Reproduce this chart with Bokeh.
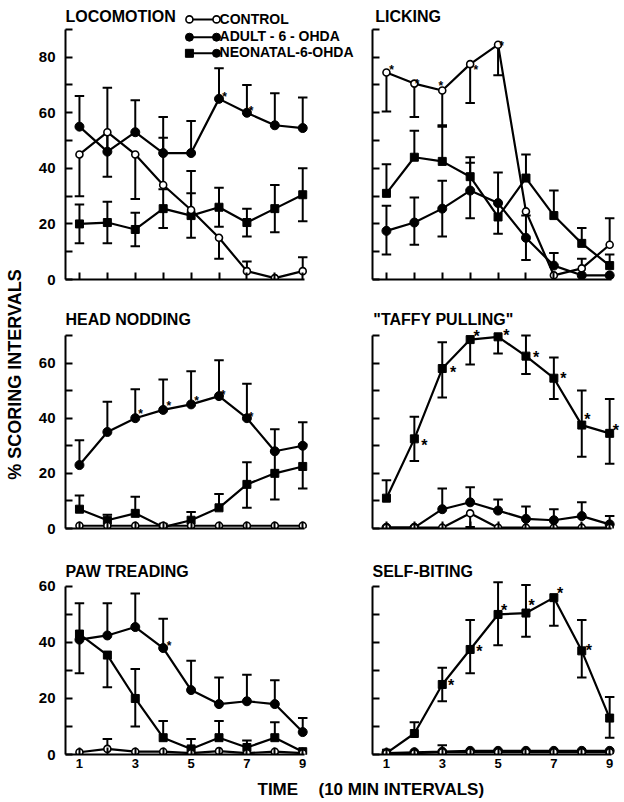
import numpy as np
from bokeh.plotting import figure
from bokeh.layouts import row, column
from bokeh.models import FixedTicker, Label
from bokeh.core.properties import value
from bokeh.embed import file_html
from bokeh.resources import INLINE

FONT = "Liberation Sans"

# ---------------- data ----------------
time = [1, 2, 3, 4, 5, 6, 7, 8, 9]
x_tick_labels = [1, 3, 5, 7, 9]
x_minor = [2, 4, 6, 8]

# LOCOMOTION
loc_control    = [45, 53, 45, 34, 25, 15, 3, 0.5, 3]
loc_control_hi = [0, 0, 0, 17, 14, 0, 3.5, 0, 5]
loc_control_lo = [15, 16, 16, 0, 0, 7.5, 0, 0, 0]
loc_adult      = [55, 46, 53, 45.5, 45.5, 65, 60, 55.5, 54.5]
loc_adult_hi   = [11, 23, 11.5, 13, 11.5, 11, 10, 11.5, 11]
loc_adult_lo   = [0, 0, 0, 0, 0, 0, 0, 0, 0]
loc_neo        = [20, 20.5, 18, 25.5, 23, 26, 20.5, 25.5, 30.5]
loc_neo_hi     = [7, 7.5, 6, 7, 8, 7, 5, 8.5, 9.5]
loc_neo_lo     = [7, 7.5, 6, 7, 8, 7, 5, 8.5, 9.5]
loc_star_x     = [6.2, 7.15]
loc_star_y     = [67, 62]

# LICKING
lick_control    = [74.5, 70.5, 68, 77.5, 84.5, 24.5, 1.5, 4, 12.5]
lick_control_hi = [0, 0, 0, 0, 0, 0, 0, 3.5, 9.5]
lick_control_lo = [14, 12, 13, 14, 11, 0, 0, 0, 0]
lick_adult      = [17.5, 20.5, 25.5, 32, 27.5, 15, 5, 1.5, 1.5]
lick_adult_hi   = [9, 9, 10, 10, 11, 8, 4.5, 0, 0]
lick_adult_lo   = [8.5, 8, 10, 10, 11, 8, 0, 0, 0]
lick_neo        = [31, 44, 42.5, 37, 22.5, 36.5, 23, 13, 5]
lick_neo_hi     = [10.5, 9.5, 13, 7, 0, 8.5, 9, 5.5, 4]
lick_neo_lo     = [0, 0, 0, 0, 0, 0, 0, 0, 0]
lick_star_x     = [1.18, 2.1, 2.95, 4.2, 5.13]
lick_star_y     = [76.8, 71.9, 71.2, 76.8, 85.3]

# HEAD NODDING
hn_control    = [1, 1, 1, 1, 1, 1, 1, 1, 1]
hn_control_hi = [0, 0, 0, 0, 0, 0, 0, 0, 0]
hn_control_lo = [0, 0, 0, 0, 0, 0, 0, 0, 0]
hn_adult      = [23, 35, 40, 43, 45, 48, 40, 28, 30]
hn_adult_hi   = [9, 11, 10.5, 11, 12, 13, 12.5, 8, 8.5]
hn_adult_lo   = [0, 0, 0, 0, 0, 0, 0, 0, 0]
hn_neo        = [7, 3, 5.5, 0.5, 3, 7.5, 16, 20, 22.5]
hn_neo_hi     = [5, 2, 6, 0, 3, 5, 8, 8, 8]
hn_neo_lo     = [0, 0, 0, 0, 0, 0, 8.5, 9.5, 8]
hn_star_x     = [3.19, 4.2, 5.2, 6.15, 7.15]
hn_star_y     = [43, 46, 47.6, 49.7, 42]

# "TAFFY PULLING"
taffy_control    = [0.3, 0.3, 0.3, 5.5, 0.3, 0.3, 0.3, 0.3, 0.3]
taffy_control_hi = [0, 0, 0, 0, 0, 0, 0, 0, 0]
taffy_control_lo = [0, 0, 0, 5, 0, 0, 0, 0, 0]
taffy_adult      = [0.3, 0.3, 7, 9.5, 6.5, 3.5, 3, 4.5, 1.5]
taffy_adult_hi   = [0, 0, 7.5, 5.5, 4, 4.5, 4, 5, 3]
taffy_adult_lo   = [0, 0, 0, 0, 0, 0, 0, 0, 0]
taffy_neo        = [11, 32.5, 58, 68.5, 69.5, 62.5, 54.5, 37.5, 34.5]
taffy_neo_hi     = [6.5, 8, 9.5, 0, 0, 7.5, 7.5, 12.5, 12.5]
taffy_neo_lo     = [0, 8, 10.5, 9, 6, 6.5, 7.5, 11.5, 11]
taffy_star_x     = [2.36, 3.39, 4.23, 5.3, 6.36, 7.34, 8.2, 9.22]
taffy_star_y     = [31.5, 58, 71, 71.5, 63.5, 56, 41, 37]

# PAW TREADING
paw_control    = [0.8, 2, 1, 1, 0.5, 1.2, 0.5, 1, 0.5]
paw_control_hi = [0, 3.5, 0, 0, 0, 0, 0, 0, 0]
paw_control_lo = [0, 0, 0, 0, 0, 0, 0, 0, 0]
paw_adult      = [41, 42.5, 45.5, 38, 23, 18, 19, 18, 8]
paw_adult_hi   = [13, 11.5, 12, 10.5, 10.5, 9.5, 9.5, 8.5, 5]
paw_adult_lo   = [0, 0, 0, 0, 0, 0, 0, 0, 0]
paw_neo        = [43, 35.5, 20, 6, 2, 6, 2.5, 6, 1]
paw_neo_hi     = [0, 0, 10.5, 6, 3.5, 6, 2.5, 5.5, 0]
paw_neo_lo     = [14, 11.5, 10, 0, 0, 0, 0, 0, 0]
paw_star_x     = [4.21]
paw_star_y     = [40]

# SELF-BITING
sb_control    = [0.5, 0.5, 0.8, 0.8, 0.8, 0.8, 0.8, 0.8, 0.8]
sb_control_hi = [0, 0, 2.5, 0, 0, 0, 0, 0, 0]
sb_control_lo = [0, 0, 0, 0, 0, 0, 0, 0, 0]
sb_adult      = [0.5, 0.8, 1, 1.3, 1.3, 1.3, 1.3, 1.3, 1.3]
sb_adult_hi   = [0, 0, 0, 0, 0, 0, 0, 0, 0]
sb_adult_lo   = [0, 0, 0, 0, 0, 0, 0, 0, 0]
sb_neo        = [0.5, 7.5, 25, 37.5, 50, 50.5, 56, 37, 13]
sb_neo_hi     = [0, 4, 6, 10.5, 11.5, 10, 0, 11, 7.5]
sb_neo_lo     = [0, 0, 6, 8.5, 11, 8.5, 10, 9.5, 7]
sb_star_x     = [3.32, 4.33, 5.22, 6.2, 7.22, 8.25]
sb_star_y     = [26, 38.3, 53, 54.6, 58.8, 38.6]

legend_labels = ["CONTROL", "ADULT - 6 - OHDA", "NEONATAL-6-OHDA"]

# ---------------- helpers ----------------
CAP = 0.17
LEFT_W, RIGHT_W = 332, 262


def make_panel(left, bottom_row, height, y_end, border_bottom, major, minor, top):
    p = figure(width=LEFT_W if left else RIGHT_W, height=height,
               x_range=(0.5, 11.07 if left else 9.46), y_range=(0, y_end),
               output_backend="svg", toolbar_location=None,
               min_border_left=37 if left else 12,
               min_border_right=0,
               min_border_top=0, min_border_bottom=border_bottom)
    p.outline_line_color = None
    p.xgrid.visible = False
    p.ygrid.visible = False
    p.background_fill_color = "white"
    p.border_fill_color = "white"
    xa = p.xaxis[0]
    ya = p.yaxis[0]
    for ax in (xa, ya):
        ax.axis_line_width = 2
        ax.axis_line_color = "black"
        ax.major_tick_in = 7
        ax.major_tick_out = 0
        ax.minor_tick_in = 7
        ax.minor_tick_out = 0
        ax.major_tick_line_width = 2
        ax.minor_tick_line_width = 2
        ax.major_tick_line_color = "black"
        ax.minor_tick_line_color = "black"
        ax.major_label_text_font = FONT
        ax.major_label_text_font_style = "bold"
        ax.major_label_text_color = "black"
    xa.bounds = (0.5, 9.08)
    ya.bounds = (0, top)
    if bottom_row:
        xa.ticker = FixedTicker(ticks=x_tick_labels, minor_ticks=x_minor)
        xa.major_label_text_font_size = "13px"
        xa.major_label_standoff = 4
    else:
        xa.ticker = FixedTicker(ticks=[], minor_ticks=time)
        xa.major_label_standoff = 0
    if left:
        ya.ticker = FixedTicker(ticks=major, minor_ticks=minor)
        ya.major_label_text_font_size = "15px"
        ya.major_label_standoff = 10
    else:
        ya.ticker = FixedTicker(ticks=[], minor_ticks=sorted(major + minor))
        ya.major_label_standoff = 0
    return p


def draw(p, control, adult, neo, stars, star_size="13px"):
    groups = [control, adult, neo]
    for (y, hi, lo) in groups:
        p.line(time, y, line_width=2.2, color="black")
    for (y, hi, lo) in groups:
        sx, sy0, sy1 = [], [], []
        for xi, yi, h, l in zip(time, y, hi, lo):
            if h > 0:
                sx.append(xi); sy0.append(yi); sy1.append(yi + h)
            if l > 0:
                sx.append(xi); sy0.append(yi); sy1.append(yi - l)
        if sx:
            sx = np.array(sx, dtype=float)
            p.segment(x0=sx, y0=sy0, x1=sx, y1=sy1, line_width=2, color="black")
            p.segment(x0=sx - CAP, y0=sy1, x1=sx + CAP, y1=sy1, line_width=2, color="black")
    p.scatter(time, neo[0], marker="square", size=8, color="black")
    p.scatter(time, adult[0], marker="circle", size=9, color="black")
    p.scatter(time, control[0], marker="circle", size=7, fill_color="white",
              line_color="black", line_width=1.6)
    sx, sy = stars
    p.text(x=sx, y=sy, text=["*"] * len(sx), text_font=value(FONT),
           text_font_style="bold", text_font_size=star_size, text_align="center",
           text_baseline="middle", y_offset=4, color="black")


def title(p, text, x, y):
    p.add_layout(Label(x=x, y=y, text=text, text_font=FONT, text_font_style="bold",
                       text_font_size="16px", text_baseline="alphabetic",
                       text_align="left", text_color="black"))


# ---------------- panels ----------------
maj90, min90 = [0, 20, 40, 60, 80], [10, 30, 50, 70, 90]
maj70, min70 = [0, 20, 40, 60], [10, 30, 50, 70]
maj60, min60 = [0, 20, 40, 60], [10, 30, 50]

p_loc = make_panel(True, False, 290, 100.4, 11, maj90, min90, 90)
draw(p_loc, (loc_control, loc_control_hi, loc_control_lo),
     (loc_adult, loc_adult_hi, loc_adult_lo), (loc_neo, loc_neo_hi, loc_neo_lo),
     (loc_star_x, loc_star_y), "12px")
title(p_loc, "LOCOMOTION", 0.5, 94.5)

# legend
leg_x = [4.94, 5.91]
leg_y = [93.6, 87.2, 81.4]
leg_base = [93.6, 87.2, 81.4]
for i, lab in enumerate(legend_labels):
    p_loc.line(leg_x, [leg_y[i], leg_y[i]], line_width=2, color="black")
    p_loc.add_layout(Label(x=6.02, y=leg_base[i] + 0.3, text=lab, text_font=FONT,
                           text_font_style="bold", text_font_size="14px",
                           text_baseline="middle", text_color="black"))
p_loc.scatter(leg_x, [leg_y[0]] * 2, marker="circle", size=7, fill_color="white",
              line_color="black", line_width=1.6)
p_loc.scatter(leg_x, [leg_y[1]] * 2, marker="circle", size=8, color="black")
p_loc.scatter([leg_x[0]], [leg_y[2]], marker="square", size=8, color="black")
p_loc.scatter([leg_x[1]], [leg_y[2]], marker="circle", size=8, color="black")

p_lick = make_panel(False, False, 290, 100.4, 11, maj90, min90, 90)
draw(p_lick, (lick_control, lick_control_hi, lick_control_lo),
     (lick_adult, lick_adult_hi, lick_adult_lo), (lick_neo, lick_neo_hi, lick_neo_lo),
     (lick_star_x, lick_star_y), "12px")
title(p_lick, "LICKING", 0.6, 94.5)

p_hn = make_panel(True, False, 250, 86.3, 12, maj70, min70, 70)
draw(p_hn, (hn_control, hn_control_hi, hn_control_lo),
     (hn_adult, hn_adult_hi, hn_adult_lo), (hn_neo, hn_neo_hi, hn_neo_lo),
     (hn_star_x, hn_star_y), "12px")
title(p_hn, "HEAD NODDING", 0.5, 75.8)

p_taffy = make_panel(False, False, 250, 86.3, 12, maj70, min70, 70)
draw(p_taffy, (taffy_control, taffy_control_hi, taffy_control_lo),
     (taffy_adult, taffy_adult_hi, taffy_adult_lo), (taffy_neo, taffy_neo_hi, taffy_neo_lo),
     (taffy_star_x, taffy_star_y), "16px")
title(p_taffy, "\"TAFFY PULLING\"", 0.53, 75.8)

p_paw = make_panel(True, True, 234, 76.4, 20, maj60, min60, 60)
draw(p_paw, (paw_control, paw_control_hi, paw_control_lo),
     (paw_adult, paw_adult_hi, paw_adult_lo), (paw_neo, paw_neo_hi, paw_neo_lo),
     (paw_star_x, paw_star_y), "12px")
title(p_paw, "PAW TREADING", 0.5, 65.2)

p_sb = make_panel(False, True, 234, 76.4, 20, maj60, min60, 60)
draw(p_sb, (sb_control, sb_control_hi, sb_control_lo),
     (sb_adult, sb_adult_hi, sb_adult_lo), (sb_neo, sb_neo_hi, sb_neo_lo),
     (sb_star_x, sb_star_y), "16px")
title(p_sb, "SELF-BITING", 0.5, 65.2)

# ---------------- axis titles ----------------
ylab = figure(width=28, height=774, x_range=(0, 28), y_range=(0, 774),
              output_backend="svg", toolbar_location=None,
              x_axis_type=None, y_axis_type=None, min_border=0)
ylab.outline_line_color = None
ylab.text(x=[14], y=[400], text=["% SCORING INTERVALS"], angle=np.pi / 2,
          text_align="center", text_baseline="middle", text_font=value(FONT),
          text_font_style="bold", text_font_size="18px", color="black")

xlab = figure(width=LEFT_W + RIGHT_W + 28, height=28, x_range=(0, LEFT_W + RIGHT_W + 28),
              y_range=(0, 28), output_backend="svg", toolbar_location=None,
              x_axis_type=None, y_axis_type=None, min_border=0)
xlab.outline_line_color = None
xlab.text(x=[257, 318], y=[13.5, 13.5], text=["TIME", "(10 MIN INTERVALS)"],
          text_align="left", text_baseline="middle", text_font=value(FONT),
          text_font_style="bold", text_font_size="17px", color="black")

grid = column(row(p_loc, p_lick), row(p_hn, p_taffy), row(p_paw, p_sb))
layout = column(row(ylab, grid), xlab)

open("out.html", "w").write(file_html(layout, INLINE))
